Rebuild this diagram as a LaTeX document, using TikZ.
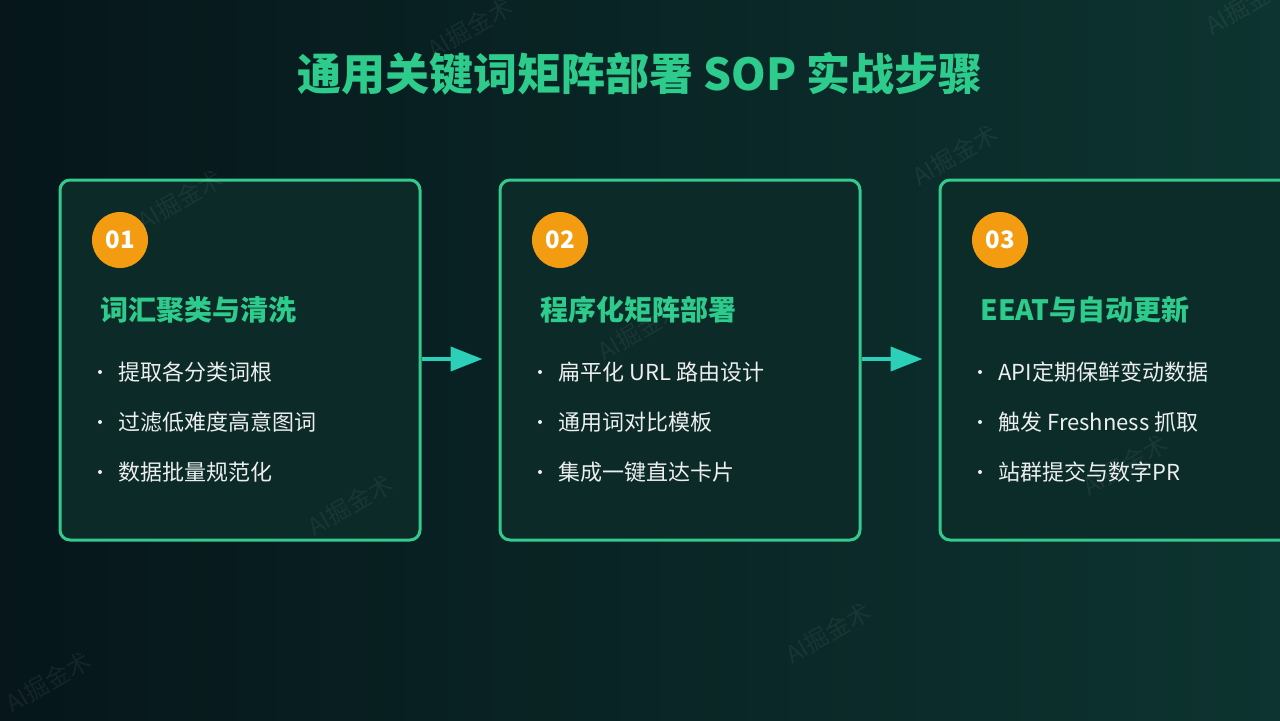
\documentclass[tikz,border=0pt]{standalone}
\usepackage{fontspec}
\setmainfont{Noto Sans CJK SC}
\usetikzlibrary{arrows.meta}

\definecolor{bgL}{HTML}{06161A}
\definecolor{bgR}{HTML}{0D3430}
\definecolor{cardfill}{HTML}{0B2A28}
\definecolor{cardline}{HTML}{36C98E}
\definecolor{titlegreen}{HTML}{2ECC8C}
\definecolor{badge}{HTML}{F39C12}
\definecolor{flow}{HTML}{2CCFB8}
\definecolor{itemtext}{HTML}{ECEFEE}

\tikzset{
  card/.style={draw=cardline, line width=1.5pt, fill=cardfill, rounded corners=5pt,
    minimum width=180pt, minimum height=180pt},
  badge/.style={circle, fill=badge, minimum size=28pt, inner sep=0pt,
    text=white, font=\fontsize{12}{12}\selectfont\bfseries},
  head/.style={anchor=west, inner sep=0pt, text=titlegreen, font=\fontsize{14}{14}\selectfont\bfseries},
  item/.style={anchor=west, inner sep=0pt, text=itemtext, font=\fontsize{11}{11}\selectfont},
  bullet/.style={circle, fill=itemtext, minimum size=2pt, inner sep=0pt},
  flowarrow/.style={draw=flow, line width=2pt, -{Triangle[length=16pt,width=12pt]}, shorten >=8pt},
  wmark/.style={text=white, opacity=0.06, rotate=30, font=\fontsize{12}{12}\selectfont}
}

\begin{document}
\begin{tikzpicture}[x=0.5pt, y=-0.5pt]
\clip (0,0) rectangle (1280,720);
\shade[left color=bgL, right color=bgR] (0,0) rectangle (1280,720);

% title
\node[text=titlegreen, font=\fontsize{22}{22}\selectfont\bfseries] (title) at (640,74) {通用关键词矩阵部署 SOP 实战步骤};

% cards
\node[card] (c1) at (240,360) {};
\node[card] (c2) at (680,360) {};
\node[card, fill=cardfill!85!bgR] (c3) at (1120,360) {};

% step 01
\node[badge] (n1) at (120,240) {01};
\node[head] (h1) at (100,310) {词汇聚类与清洗};
\node[bullet] (d11) at (100,372) {}; \node[item] (t11) at (118,372) {提取各分类词根};
\node[bullet] (d12) at (100,422) {}; \node[item] (t12) at (118,422) {过滤低难度高意图词};
\node[bullet] (d13) at (100,472) {}; \node[item] (t13) at (118,472) {数据批量规范化};

% step 02
\node[badge] (n2) at (560,240) {02};
\node[head] (h2) at (540,310) {程序化矩阵部署};
\node[bullet] (d21) at (540,372) {}; \node[item] (t21) at (558,372) {扁平化 URL 路由设计};
\node[bullet] (d22) at (540,422) {}; \node[item] (t22) at (558,422) {通用词对比模板};
\node[bullet] (d23) at (540,472) {}; \node[item] (t23) at (558,472) {集成一键直达卡片};

% step 03
\node[badge] (n3) at (1000,240) {03};
\node[head] (h3) at (980,310) {EEAT与自动更新};
\node[bullet] (d31) at (980,372) {}; \node[item] (t31) at (998,372) {API定期保鲜变动数据};
\node[bullet] (d32) at (980,422) {}; \node[item] (t32) at (998,422) {触发 Freshness 抓取};
\node[bullet] (d33) at (980,472) {}; \node[item] (t33) at (998,472) {站群提交与数字PR};

% arrows between cards
\draw[flowarrow] (c1.east |- 0,359) -- (c2.west |- 0,359);
\draw[flowarrow] (c2.east |- 0,359) -- (c3.west |- 0,359);

% watermarks
\node[wmark] (w1) at (470,28) {AI掘金术};
\node[wmark] (w2) at (955,155) {AI掘金术};
\node[wmark] (w3) at (180,200) {AI掘金术};
\node[wmark] (w4) at (350,505) {AI掘金术};
\node[wmark] (w5) at (640,330) {AI掘金术};
\node[wmark] (w6) at (1125,465) {AI掘金术};
\node[wmark] (w7) at (828,633) {AI掘金术};
\node[wmark] (w8) at (48,682) {AI掘金术};
\node[wmark] (w9) at (1248,4) {AI掘金术};
\end{tikzpicture}
\end{document}
